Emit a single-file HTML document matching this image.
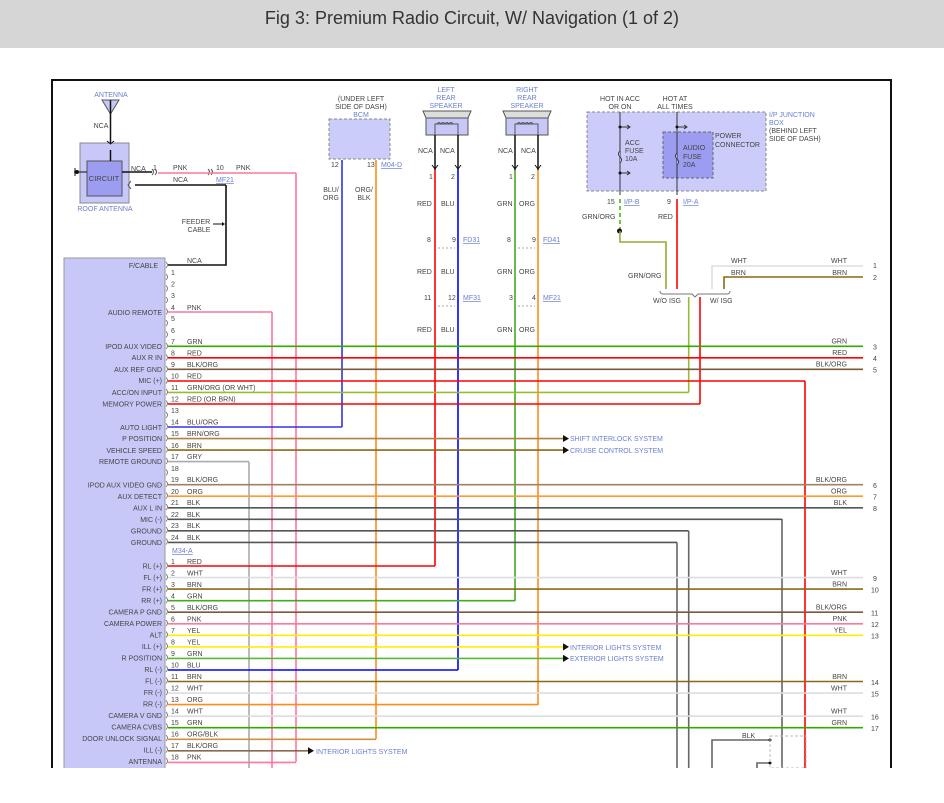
<!DOCTYPE html>
<html><head><meta charset="utf-8"><style>
html,body{margin:0;padding:0;background:#fff;width:944px;height:803px;overflow:hidden}
#hd{position:absolute;left:0;top:0;width:944px;height:48px;background:#d6d6d6}
#hd div{position:absolute;left:0;right:0;top:8px;text-align:center;font:18px "Liberation Sans",sans-serif;color:#333}
svg{position:absolute;left:0;top:0}
text{font-family:"Liberation Sans",sans-serif;font-size:7px;fill:#444}
.b{fill:#6a7fd0}
.u{fill:#6a7fd0;text-decoration:underline}
.r{text-anchor:end}
.m{text-anchor:middle}
</style></head><body>
<div id="hd"><div>Fig 3: Premium Radio Circuit, W/ Navigation (1 of 2)</div></div>
<svg width="944" height="803" viewBox="0 0 944 803">
<g fill="none" stroke-width="1.6">
<path d="M52,803V80H891V803" stroke="#111" stroke-width="2"/>
</g>
<rect x="80" y="143" width="49" height="60" fill="#c8c8f8" stroke="#888"/>
<rect x="87" y="161" width="35" height="35" fill="#9c9cf0" stroke="#555"/>
<text x="104" y="181" class="m" style="font-size:7.5px">CIRCUIT</text>
<polygon points="102,100 119,100 110.5,114" fill="#c8c8f8" stroke="#555"/>
<path d="M110.5,100V143 M110.5,161V150" stroke="#111" stroke-width="1.5"/>
<path d="M107,141l3.5,3l3.5,-3" fill="none" stroke="#111"/>
<text x="111" y="97" class="m b">ANTENNA</text>
<text x="101" y="128" class="m">NCA</text>
<text x="105" y="211" class="m b">ROOF ANTENNA</text>
<path d="M74,172H87 M75,168v8" stroke="#111"/><circle cx="77" cy="172" r="2" fill="#111"/>
<path d="M122,172H152 M226,185H135" stroke="#111" stroke-width="1.6" fill="none"/>
<path d="M131,181l-3,4l3,4" stroke="#555" fill="none"/>
<path d="M152,169q3,3 0,6 M155,169q3,3 0,6 M208,169q3,3 0,6 M211,169q3,3 0,6" stroke="#555" fill="none"/>
<text x="131" y="171">NCA</text><text x="153" y="170">1</text><text x="173" y="170">PNK</text>
<text x="216" y="170">10</text><text x="236" y="170">PNK</text>
<text x="173" y="182">NCA</text><text x="216" y="182" class="u">MF21</text>
<text x="196" y="224" class="m">FEEDER</text><text x="199" y="232" class="m">CABLE</text>
<path d="M213,224H222" stroke="#111"/><polygon points="222,222 225,224 222,226" fill="#111"/>
<path d="M226,185V265H168" stroke="#111" stroke-width="1.6" fill="none"/>
<text x="187" y="263">NCA</text>
<rect x="64" y="258" width="101" height="545" fill="#c8c8f8" stroke="#999"/>
<text x="158" y="268" class="r">F/CABLE</text>
<rect x="329" y="119" width="61" height="40" fill="#ccccfa" stroke="#888" stroke-dasharray="3,2"/>
<text x="361" y="101" class="m">(UNDER LEFT</text><text x="361" y="109" class="m">SIDE OF DASH)</text><text x="361" y="117" class="m b">BCM</text>
<text x="331" y="167">12</text><text x="367" y="167">13</text><text x="381" y="167" class="u">M04-D</text>
<text x="331" y="192" class="m">BLU/</text><text x="331" y="200" class="m">ORG</text>
<text x="364" y="192" class="m">ORG/</text><text x="364" y="200" class="m">BLK</text>
<g>
<polygon points="423,111 471,111 468,118 426,118" fill="#ddd" stroke="#555"/>
<rect x="426" y="118" width="42" height="17" fill="#c8c8f8" stroke="#555"/>
<path d="M435,135V124H458V135 M437,124q2,-3 4,0q2,-3 4,0q2,-3 4,0q2,-3 4,0" stroke="#555" fill="none"/>
<polygon points="503,111 551,111 548,118 506,118" fill="#ddd" stroke="#555"/>
<rect x="506" y="118" width="42" height="17" fill="#c8c8f8" stroke="#555"/>
<path d="M515,135V124H538V135 M517,124q2,-3 4,0q2,-3 4,0q2,-3 4,0q2,-3 4,0" stroke="#555" fill="none"/>
<path d="M435,135V170 M458,135V170 M515,135V170 M538,135V170" stroke="#111" stroke-width="1.5"/>
<path d="M432,165l3,4l3,-4 M455,165l3,4l3,-4 M512,165l3,4l3,-4 M535,165l3,4l3,-4" stroke="#111" fill="none"/>
</g>
<text x="446" y="92" class="m b">LEFT</text><text x="446" y="100" class="m b">REAR</text><text x="446" y="108" class="m b">SPEAKER</text>
<text x="527" y="92" class="m b">RIGHT</text><text x="527" y="100" class="m b">REAR</text><text x="527" y="108" class="m b">SPEAKER</text>
<text x="418" y="153">NCA</text><text x="440" y="153">NCA</text><text x="498" y="153">NCA</text><text x="521" y="153">NCA</text>
<text x="429" y="179">1</text><text x="451" y="179">2</text><text x="509" y="179">1</text><text x="531" y="179">2</text>
<text x="417" y="206">RED</text><text x="441" y="206">BLU</text><text x="497" y="206">GRN</text><text x="519" y="206">ORG</text>
<text x="427" y="242">8</text><text x="452" y="242">9</text><text x="463" y="242" class="u">FD31</text>
<text x="507" y="242">8</text><text x="532" y="242">9</text><text x="543" y="242" class="u">FD41</text>
<text x="417" y="274">RED</text><text x="441" y="274">BLU</text><text x="497" y="274">GRN</text><text x="519" y="274">ORG</text>
<text x="424" y="300">11</text><text x="448" y="300">12</text><text x="463" y="300" class="u">MF31</text>
<text x="509" y="300">3</text><text x="532" y="300">4</text><text x="543" y="300" class="u">MF21</text>
<text x="417" y="332">RED</text><text x="441" y="332">BLU</text><text x="497" y="332">GRN</text><text x="519" y="332">ORG</text>
<path d="M438,248H455 M518,248H535 M438,306H455 M518,306H535" stroke="#aaa" stroke-dasharray="2,2"/>
<rect x="587" y="112" width="179" height="79" fill="#ccccfa" stroke="#888" stroke-dasharray="3,2"/>
<rect x="663" y="132" width="50" height="46" fill="#9c9cf0" stroke="#666" stroke-dasharray="3,2"/>
<path d="M620,112V195 M677,112V195 M620,127h10 M677,127h10 M620,173h10" stroke="#333" fill="none"/>
<path d="M627,125l3,2l-3,2 M684,125l3,2l-3,2 M627,171l3,2l-3,2" stroke="#333" fill="none"/>
<circle cx="620" cy="127" r="1.5" fill="#111"/><circle cx="677" cy="127" r="1.5" fill="#111"/><circle cx="620" cy="173" r="1.5" fill="#111"/>
<path d="M620,151q-3,3 0,6q3,3 0,6 M677,153q-3,3 0,6q3,3 0,6" stroke="#333" fill="#ccccfa"/>
<text x="620" y="101" class="m">HOT IN ACC</text><text x="620" y="109" class="m">OR ON</text>
<text x="675" y="101" class="m">HOT AT</text><text x="675" y="109" class="m">ALL TIMES</text>
<text x="625" y="145">ACC</text><text x="625" y="153">FUSE</text><text x="625" y="161">10A</text>
<text x="683" y="150">AUDIO</text><text x="683" y="159">FUSE</text><text x="683" y="167">20A</text>
<text x="715" y="138">POWER</text><text x="715" y="147">CONNECTOR</text>
<text x="769" y="117" class="b">I/P JUNCTION</text><text x="769" y="125" class="b">BOX</text>
<text x="769" y="133">(BEHIND LEFT</text><text x="769" y="141">SIDE OF DASH)</text>
<text x="607" y="204">15</text><text x="624" y="204" class="u">I/P-B</text>
<text x="667" y="204">9</text><text x="683" y="204" class="u">I/P-A</text>
<text x="582" y="219">GRN/ORG</text><text x="658" y="219">RED</text>
<text x="628" y="278">GRN/ORG</text>
<path d="M620,199V231" stroke="#44bb11" stroke-width="1.6" stroke-dasharray="4,3"/>
<circle cx="619.5" cy="231" r="2.5" fill="#111"/>
<path d="M620,231V242H666V289" stroke="#99aa33" stroke-width="1.6" fill="none"/>
<path d="M677,199V289" stroke="#f00" stroke-width="1.6"/>
<path d="M863,266H712V289" stroke="#ddd" stroke-width="1.6" fill="none"/>
<path d="M863,277H724V289" stroke="#8b6914" stroke-width="1.6" fill="none"/>
<path d="M660,291q0,3 3,3H692l3,3l3,-3H727q3,0 3,-3" stroke="#777" fill="none"/>
<text x="653" y="303">W/O ISG</text><text x="710" y="303">W/ ISG</text>
<text x="731" y="263">WHT</text><text x="847" y="263" class="r">WHT</text>
<text x="731" y="275">BRN</text><text x="847" y="275" class="r">BRN</text>
<text x="873" y="268">1</text><text x="873" y="280">2</text>
<g fill="none" stroke-width="1.6">
<path d="M296,173H158 M296,173V762" stroke="#ff7799"/>
<path d="M272,312V803" stroke="#ff7799"/>
<path d="M249,462V803" stroke="#aaa"/>
<path d="M342,160V427" stroke="#3333dd"/>
<path d="M376,160V739" stroke="#ff8c1a"/>
<path d="M435,170V566" stroke="#f00"/>
<path d="M458,170V670" stroke="#0000ff"/>
<path d="M515,170V601" stroke="#44aa22"/>
<path d="M538,170V705" stroke="#ff8c1a"/>
<path d="M688.7,297V392.4" stroke="#99bb33"/>
<path d="M700,297V404" stroke="#f00"/>
<path d="M805,381V803" stroke="#f00"/>
<path d="M782,519V803 M688.7,531V803 M677,542.4V803" stroke="#666"/>
</g>
<g fill="none" stroke-width="1.6">
<path d="M168,312H272" stroke="#ff7799"/>
<path d="M168,346.3H863" stroke="#33aa00"/>
<path d="M168,357.8H863" stroke="#f00"/>
<path d="M168,369.3H863" stroke="#7a5a3a"/>
<path d="M168,381H805" stroke="#f00"/>
<path d="M168,392.4H688.7" stroke="#99bb33"/>
<path d="M168,404H700" stroke="#f00"/>
<path d="M168,427H342" stroke="#3333dd"/>
<path d="M168,438.6H563" stroke="#b08040"/>
<path d="M168,450.1H563" stroke="#8b6914"/>
<path d="M168,461.6H249" stroke="#aaa"/>
<path d="M168,484.7H863" stroke="#a08060"/>
<path d="M168,496.2H863" stroke="#ff9933"/>
<path d="M168,507.8H863" stroke="#555"/>
<path d="M168,519.3H782" stroke="#555"/>
<path d="M168,530.8H688.7" stroke="#555"/>
<path d="M168,542.4H677" stroke="#555"/>
<path d="M168,566H435" stroke="#f00"/>
<path d="M168,577.6H863" stroke="#ddd"/>
<path d="M168,589.1H863" stroke="#8b6914"/>
<path d="M168,600.7H515" stroke="#44aa22"/>
<path d="M168,612.2H863" stroke="#7a5a3a"/>
<path d="M168,623.8H863" stroke="#ff7799"/>
<path d="M168,635.3H863" stroke="#ffee00"/>
<path d="M168,646.9H563" stroke="#ffee00"/>
<path d="M168,658.4H563" stroke="#55bb33"/>
<path d="M168,670H458" stroke="#0000ff"/>
<path d="M168,681.5H863" stroke="#8b6914"/>
<path d="M168,693.1H863" stroke="#ddd"/>
<path d="M168,704.6H538" stroke="#ff8c1a"/>
<path d="M168,716.2H863" stroke="#ddd"/>
<path d="M168,727.7H863" stroke="#33aa00"/>
<path d="M168,739.3H376" stroke="#d09040"/>
<path d="M168,750.8H308" stroke="#8a6a4a"/>
<path d="M168,762.4H296" stroke="#ff7799"/>
</g>
<g fill="#111">
<polygon points="563,435 569,438.6 563,442"/><polygon points="563,446.5 569,450.1 563,453.7"/>
<polygon points="563,643.3 569,646.9 563,650.5"/><polygon points="563,654.8 569,658.4 563,662"/>
<polygon points="308,747.2 314,750.8 308,754.4"/>
</g>
<text x="570" y="441" class="b">SHIFT INTERLOCK SYSTEM</text>
<text x="570" y="453" class="b">CRUISE CONTROL SYSTEM</text>
<text x="570" y="650" class="b">INTERIOR LIGHTS SYSTEM</text>
<text x="570" y="661" class="b">EXTERIOR LIGHTS SYSTEM</text>
<text x="316" y="754" class="b">INTERIOR LIGHTS SYSTEM</text>
<path d="M712,803V740H770 M757,803V763H770" stroke="#666" stroke-width="1.6" fill="none"/>
<circle cx="770" cy="740" r="1.5" fill="#111"/><circle cx="770" cy="763" r="1.5" fill="#111"/>
<rect x="770" y="736" width="36" height="32" fill="none" stroke="#bbb" stroke-dasharray="3,2"/>
<text x="742" y="738">BLK</text>
<path stroke="#666" fill="none" stroke-width="0.8" d="M166,262q3,3 0,6 M166,274q3,3 0,6 M166,285.5q3,3 0,6 M166,297q3,3 0,6 M166,308.5q3,3 0,6 M166,320q3,3 0,6 M166,331.5q3,3 0,6 M166,343q3,3 0,6 M166,354.5q3,3 0,6 M166,366q3,3 0,6 M166,377.5q3,3 0,6 M166,389q3,3 0,6 M166,400.5q3,3 0,6 M166,412q3,3 0,6 M166,423.5q3,3 0,6 M166,435q3,3 0,6 M166,446.5q3,3 0,6 M166,458q3,3 0,6 M166,469.5q3,3 0,6 M166,481q3,3 0,6 M166,492.5q3,3 0,6 M166,504q3,3 0,6 M166,515.5q3,3 0,6 M166,527q3,3 0,6 M166,538.5q3,3 0,6 M166,562.5q3,3 0,6 M166,574q3,3 0,6 M166,585.5q3,3 0,6 M166,597q3,3 0,6 M166,608.5q3,3 0,6 M166,620q3,3 0,6 M166,631.5q3,3 0,6 M166,643q3,3 0,6 M166,654.5q3,3 0,6 M166,666q3,3 0,6 M166,677.5q3,3 0,6 M166,689q3,3 0,6 M166,700.5q3,3 0,6 M166,712q3,3 0,6 M166,723.5q3,3 0,6 M166,735q3,3 0,6 M166,746.5q3,3 0,6 M166,758q3,3 0,6"/>
<g>
<text x="171" y="275">1</text><text x="171" y="286.5">2</text><text x="171" y="298">3</text>
<text x="171" y="310">4</text><text x="187" y="310">PNK</text><text x="162" y="315" class="r">AUDIO REMOTE</text>
<text x="171" y="321">5</text><text x="171" y="333">6</text>
<text x="171" y="344">7</text><text x="187" y="344">GRN</text><text x="162" y="349" class="r">IPOD AUX VIDEO</text>
<text x="171" y="355.5">8</text><text x="187" y="355.5">RED</text><text x="162" y="360" class="r">AUX R IN</text>
<text x="171" y="367">9</text><text x="187" y="367">BLK/ORG</text><text x="162" y="372" class="r">AUX REF GND</text>
<text x="171" y="378.5">10</text><text x="187" y="378.5">RED</text><text x="162" y="383" class="r">MIC (+)</text>
<text x="171" y="390">11</text><text x="187" y="390">GRN/ORG (OR WHT)</text><text x="162" y="395" class="r">ACC/ON INPUT</text>
<text x="171" y="401.5">12</text><text x="187" y="401.5">RED (OR BRN)</text><text x="162" y="406.5" class="r">MEMORY POWER</text>
<text x="171" y="413">13</text>
<text x="171" y="424.5">14</text><text x="187" y="424.5">BLU/ORG</text><text x="162" y="430" class="r">AUTO LIGHT</text>
<text x="171" y="436">15</text><text x="187" y="436">BRN/ORG</text><text x="162" y="441" class="r">P POSITION</text>
<text x="171" y="448">16</text><text x="187" y="448">BRN</text><text x="162" y="453" class="r">VEHICLE SPEED</text>
<text x="171" y="459">17</text><text x="187" y="459">GRY</text><text x="162" y="464" class="r">REMOTE GROUND</text>
<text x="171" y="471">18</text>
<text x="171" y="482">19</text><text x="187" y="482">BLK/ORG</text><text x="162" y="487.5" class="r">IPOD AUX VIDEO GND</text>
<text x="171" y="494">20</text><text x="187" y="494">ORG</text><text x="162" y="499" class="r">AUX DETECT</text>
<text x="171" y="505">21</text><text x="187" y="505">BLK</text><text x="162" y="510.5" class="r">AUX L IN</text>
<text x="171" y="517">22</text><text x="187" y="517">BLK</text><text x="162" y="522" class="r">MIC (-)</text>
<text x="171" y="528">23</text><text x="187" y="528">BLK</text><text x="162" y="533.5" class="r">GROUND</text>
<text x="171" y="540">24</text><text x="187" y="540">BLK</text><text x="162" y="545" class="r">GROUND</text>
<text x="172" y="553" class="u">M34-A</text>
</g>
<g>
<text x="171" y="564">1</text><text x="187" y="564">RED</text><text x="162" y="568.5" class="r">RL (+)</text>
<text x="171" y="575.5">2</text><text x="187" y="575.5">WHT</text><text x="162" y="580" class="r">FL (+)</text>
<text x="171" y="587">3</text><text x="187" y="587">BRN</text><text x="162" y="591.5" class="r">FR (+)</text>
<text x="171" y="598.5">4</text><text x="187" y="598.5">GRN</text><text x="162" y="603" class="r">RR (+)</text>
<text x="171" y="610">5</text><text x="187" y="610">BLK/ORG</text><text x="162" y="614.5" class="r">CAMERA P GND</text>
<text x="171" y="621.5">6</text><text x="187" y="621.5">PNK</text><text x="162" y="626" class="r">CAMERA POWER</text>
<text x="171" y="633">7</text><text x="187" y="633">YEL</text><text x="162" y="637.5" class="r">ALT</text>
<text x="171" y="644.5">8</text><text x="187" y="644.5">YEL</text><text x="162" y="649" class="r">ILL (+)</text>
<text x="171" y="656">9</text><text x="187" y="656">GRN</text><text x="162" y="660.5" class="r">R POSITION</text>
<text x="171" y="667.5">10</text><text x="187" y="667.5">BLU</text><text x="162" y="672" class="r">RL (-)</text>
<text x="171" y="679">11</text><text x="187" y="679">BRN</text><text x="162" y="683.5" class="r">FL (-)</text>
<text x="171" y="690.5">12</text><text x="187" y="690.5">WHT</text><text x="162" y="695" class="r">FR (-)</text>
<text x="171" y="702">13</text><text x="187" y="702">ORG</text><text x="162" y="706.5" class="r">RR (-)</text>
<text x="171" y="713.5">14</text><text x="187" y="713.5">WHT</text><text x="162" y="718" class="r">CAMERA V GND</text>
<text x="171" y="725">15</text><text x="187" y="725">GRN</text><text x="162" y="729.5" class="r">CAMERA CVBS</text>
<text x="171" y="736.5">16</text><text x="187" y="736.5">ORG/BLK</text><text x="162" y="741" class="r">DOOR UNLOCK SIGNAL</text>
<text x="171" y="748">17</text><text x="187" y="748">BLK/ORG</text><text x="162" y="752.5" class="r">ILL (-)</text>
<text x="171" y="759.5">18</text><text x="187" y="759.5">PNK</text><text x="162" y="764" class="r">ANTENNA</text>
</g>
<g>
<text x="847" y="343.5" class="r">GRN</text><text x="873" y="349.5">3</text>
<text x="847" y="355" class="r">RED</text><text x="873" y="361">4</text>
<text x="847" y="366.5" class="r">BLK/ORG</text><text x="873" y="372.5">5</text>
<text x="847" y="482" class="r">BLK/ORG</text><text x="873" y="488">6</text>
<text x="847" y="493.5" class="r">ORG</text><text x="873" y="499.5">7</text>
<text x="847" y="505" class="r">BLK</text><text x="873" y="511">8</text>
<text x="847" y="575" class="r">WHT</text><text x="873" y="581">9</text>
<text x="847" y="586.5" class="r">BRN</text><text x="871" y="592.5">10</text>
<text x="847" y="609.5" class="r">BLK/ORG</text><text x="871" y="615.5">11</text>
<text x="847" y="621" class="r">PNK</text><text x="871" y="627">12</text>
<text x="847" y="632.5" class="r">YEL</text><text x="871" y="638.5">13</text>
<text x="847" y="679" class="r">BRN</text><text x="871" y="685">14</text>
<text x="847" y="690.5" class="r">WHT</text><text x="871" y="696.5">15</text>
<text x="847" y="713.5" class="r">WHT</text><text x="871" y="719.5">16</text>
<text x="847" y="725" class="r">GRN</text><text x="871" y="731">17</text>
</g>
<rect x="0" y="768" width="944" height="35" fill="#fff"/>
</svg>
</body></html>
